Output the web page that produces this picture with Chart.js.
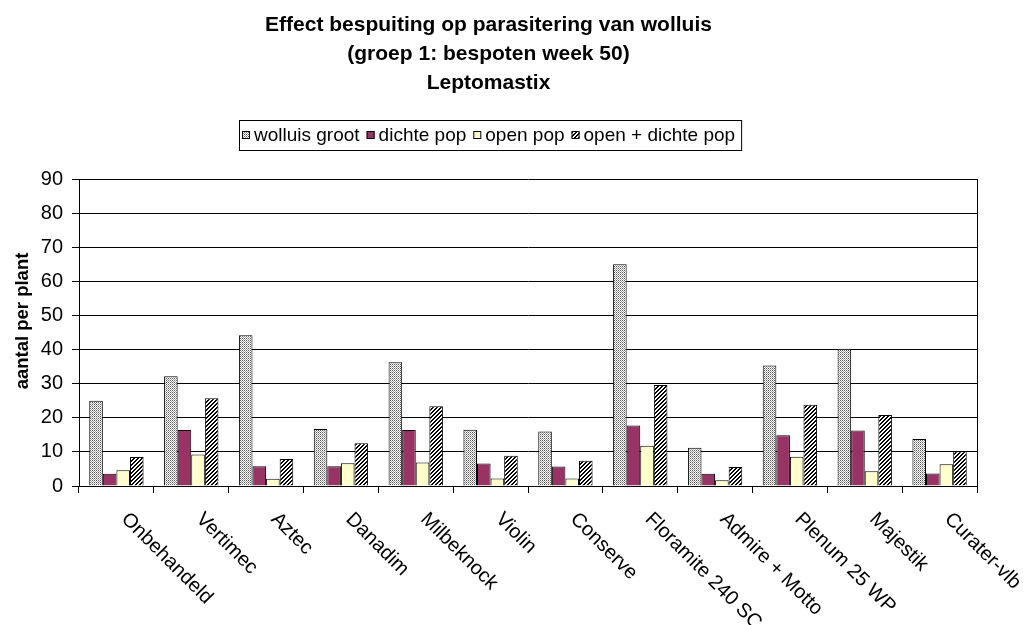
<!DOCTYPE html>
<html>
<head>
<meta charset="utf-8">
<script src="https://cdn.jsdelivr.net/npm/chart.js@4/dist/chart.umd.min.js"></script>
<style>
  html, body { margin: 0; padding: 0; background: #fff; }
</style>
</head>
<body>
<canvas id="chart" width="1027" height="625"></canvas>
<script>
// chart data
const categories = ['Onbehandeld', 'Vertimec', 'Aztec', 'Danadim', 'Milbeknock', 'Violin',
    'Conserve', 'Floramite 240 SC', 'Admire + Motto', 'Plenum 25 WP', 'Majestik', 'Curater-vlb'];
const seriesNames = ['wolluis groot', 'dichte pop', 'open pop', 'open + dichte pop'];
const wolluisGroot = [25.0, 32.2, 44.2, 16.7, 36.3, 16.5, 16.0, 65.0, 11.2, 35.3, 40.2, 13.8];
const dichtePop = [3.6, 16.4, 5.8, 5.8, 16.4, 6.6, 5.7, 17.7, 3.6, 14.9, 16.3, 3.7];
const openPop = [4.6, 9.2, 2.1, 6.7, 6.9, 2.2, 2.2, 11.8, 1.7, 8.6, 4.3, 6.4];
const openDichtePop = [8.5, 25.7, 7.9, 12.5, 23.4, 8.9, 7.4, 29.6, 5.6, 23.8, 20.8, 10.2];
const yTicks = [0, 10, 20, 30, 40, 50, 60, 70, 80, 90];
const titleLines = ['Effect bespuiting op parasitering van wolluis', '(groep 1: bespoten week 50)', 'Leptomastix'];
const yTitle = 'aantal per plant';

const FONT = '"Liberation Sans", Arial, sans-serif';
Chart.defaults.font.family = FONT;
Chart.defaults.color = '#000';

// small repeating fills, like the old Excel patterns
function makePattern(size, draw) {
    const c = document.createElement('canvas');
    c.width = c.height = size;
    const g = c.getContext('2d');
    draw(g);
    return g.createPattern(c, 'repeat');
}

const dotted = makePattern(4, function (g) {
    g.fillStyle = '#ffffff';
    g.fillRect(0, 0, 4, 4);
    for (let y = 0; y < 4; y++) {
        for (let x = 0; x < 4; x++) {
            if ((x + y) % 2 === 0) {
                g.fillStyle = (x % 2 === 0 && y % 2 === 0) ? '#5a5a5a' : '#a8a8a8';
                g.fillRect(x, y, 1, 1);
            }
        }
    }
});

const hatch = makePattern(4, function (g) {
    g.fillStyle = '#fff';
    g.fillRect(0, 0, 4, 4);
    g.fillStyle = '#000';
    for (let i = 0; i < 4; i++) {
        g.fillRect(i, 3 - i, 1, 1);
        g.fillRect(i, (4 - i) % 4, 1, 1);
    }
});

const fills = [dotted, '#993366', '#ffffcc', hatch];
const seriesData = [wolluisGroot, dichtePop, openPop, openDichtePop];

// legend box, rotated category labels, y title and the plot border
const extras = {
    id: 'extras',
    afterDraw(chart) {
        const ctx = chart.ctx;
        const area = chart.chartArea;
        ctx.save();

        // right edge of plot area
        ctx.strokeStyle = '#000';
        ctx.lineWidth = 1;
        ctx.beginPath();
        ctx.moveTo(Math.round(area.right) + 0.5, area.top);
        ctx.lineTo(Math.round(area.right) + 0.5, area.bottom);
        ctx.stroke();

        // legend
        ctx.font = '19px ' + FONT;
        ctx.textBaseline = 'middle';
        ctx.textAlign = 'left';
        const box = 8, gap = 4, sep = 7;
        const items = chart.data.datasets.map(function (d) {
            return { label: d.label, fill: d.backgroundColor, w: ctx.measureText(d.label).width };
        });
        const total = items.reduce(function (s, it) { return s + box + gap + it.w; }, 0) + sep * (items.length - 1);
        let x = Math.round(489 - total / 2);
        const cy = 135;
        ctx.strokeRect(x - 3 + 0.5, 120.5, total + 9, 30);
        items.forEach(function (it) {
            ctx.fillStyle = it.fill;
            ctx.fillRect(x, cy - 4, box, box);
            ctx.strokeRect(x + 0.5, cy - 4 + 0.5, box - 1, box - 1);
            ctx.fillStyle = '#000';
            ctx.fillText(it.label, x + box + gap, cy + 1);
            x += box + gap + it.w + sep;
        });

        // category labels, slanted down to the right
        const xs = chart.scales.x;
        ctx.font = '20px ' + FONT;
        categories.forEach(function (lab, i) {
            const px = xs.getPixelForValue(i);
            ctx.save();
            ctx.translate(px + 8, area.bottom + 30);
            ctx.rotate(Math.PI / 4);
            ctx.fillText(lab, 0, 0);
            ctx.restore();
        });

        // y axis title
        ctx.font = 'bold 18.5px ' + FONT;
        ctx.textAlign = 'center';
        ctx.translate(23, 321);
        ctx.rotate(-Math.PI / 2);
        ctx.fillText(yTitle, 0, 0);
        ctx.restore();
    }
};

new Chart(document.getElementById('chart'), {
    type: 'bar',
    data: {
        labels: categories,
        datasets: seriesNames.map(function (name, i) {
            return {
                label: name,
                data: seriesData[i],
                backgroundColor: fills[i],
                borderColor: '#000',
                borderWidth: 1,
                categoryPercentage: 0.726,
                barPercentage: 1
            };
        })
    },
    options: {
        responsive: false,
        animation: false,
        layout: { padding: { left: 0, right: 50, top: 0, bottom: 0 } },
        plugins: {
            legend: { display: false },
            tooltip: { enabled: false },
            title: {
                display: true,
                text: titleLines,
                color: '#000',
                font: { size: 21, weight: 'bold', lineHeight: 1.381 },
                padding: { top: 10.5, bottom: 81.5 }
            }
        },
        scales: {
            x: {
                grid: { display: true, drawOnChartArea: false, color: '#000', tickLength: 7, offset: true },
                border: { color: '#000' },
                ticks: { display: false },
                afterFit(scale) { scale.height = 139; }
            },
            y: {
                min: 0,
                max: 90,
                afterBuildTicks(scale) { scale.ticks = yTicks.map(function (v) { return { value: v }; }); },
                grid: { color: '#000', tickLength: 7 },
                border: { color: '#000' },
                ticks: { color: '#000', font: { size: 20 }, padding: 9 },
                afterFit(scale) { scale.width = 79; }
            }
        }
    },
    plugins: [extras]
});
</script>
</body>
</html>
